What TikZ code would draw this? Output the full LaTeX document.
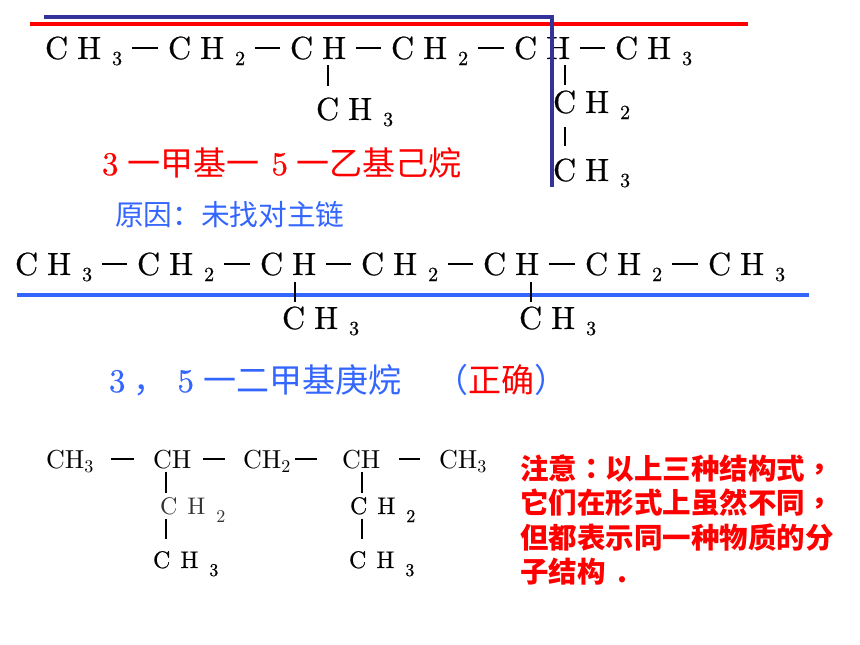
\documentclass[tikz,border=0pt]{standalone}
\usepackage{fontspec}
\setmainfont{lmroman10-regular.otf}
\newfontfamily\heavyfont[RawFeature={embolden=0.5}]{lmroman10-regular.otf}
\newfontfamily\cjk{Noto Sans CJK SC}
\newfontfamily\cjktc{Noto Sans CJK TC}
\usepackage{tikz}
\definecolor{chainred}{HTML}{FF0000}
\definecolor{chainnavy}{HTML}{333399}
\definecolor{chainblue}{HTML}{3366FF}
% Spaced groups: C H and a lowered index.
\newcommand{\biggroup}[1]{C\hspace{9pt}H\hspace{11pt}\raisebox{-6pt}{\fontsize{20}{20}\selectfont #1}}
\newcommand{\smallgroup}[1]{C\hspace{10pt}H\hspace{11pt}\raisebox{-8pt}{\fontsize{18}{20}\selectfont #1}}
\newcommand{\plainindex}[1]{\raisebox{-4pt}{\fontsize{18}{20}\selectfont #1}}
\tikzstyle{tag}=[inner sep=0, outer sep=0, anchor=base west]
\tikzstyle{biggrp}=[tag, text height=22pt, text depth=0pt, font=\heavyfont\fontsize{32}{36}\selectfont]
\tikzstyle{smallgrp}=[tag, text height=17pt, text depth=0pt, font=\heavyfont\fontsize{24}{28}\selectfont]
\tikzstyle{plaingrp}=[tag, text height=18pt, text depth=0pt, font=\fontsize{26}{30}\selectfont]
\tikzstyle{chainname}=[tag, font=\heavyfont\fontsize{33}{36}\selectfont]
\tikzstyle{remark}=[tag, text=chainred, font=\cjk\bfseries\fontsize{28.5}{32}\selectfont]
\tikzstyle{bond}=[line width=1.8pt, black]
\tikzstyle{hbond}=[bond, line width=1.6pt, shorten <=10pt, shorten >=10pt]
\tikzstyle{mainline}=[line width=3.5pt]
\begin{document}
\begin{tikzpicture}[x=1pt, y=-1pt]
    \useasboundingbox (0, 0) rectangle (860, 645);
    % First formula.
    \node[biggrp] (A1) at (45, 59) {\biggroup{3}};
    \node[biggrp] (A2) at (168, 59) {\biggroup{2}};
    \node[biggrp] (A3) at (290, 59) {C\hspace{9pt}H};
    \node[biggrp] (A4) at (391, 59) {\biggroup{2}};
    \node[biggrp] (A5) at (514, 59) {C\hspace{9pt}H};
    \node[biggrp] (A6) at (615, 59) {\biggroup{3}};
    \node[biggrp] (M1) at (316, 120) {\biggroup{3}};
    \node[biggrp] (B1) at (553, 113) {\biggroup{2}};
    \node[biggrp] (B2) at (553, 181) {\biggroup{3}};
    \draw[hbond] (A1) -- (A2);
    \draw[hbond] (A2) -- (A3);
    \draw[hbond] (A3) -- (A4);
    \draw[hbond] (A4) -- (A5);
    \draw[hbond] (A5) -- (A6);
    \draw[bond, shorten <=6pt, shorten >=12pt] ([xshift=38pt]A3.south west) -- ([xshift=12pt]M1.north west);
    \draw[bond, shorten <=6pt, shorten >=6pt] ([xshift=51pt]A5.south west) -- ([xshift=12pt]B1.north west);
    \draw[bond, shorten <=14pt, shorten >=13pt] ([xshift=12pt]B1.south west) -- ([xshift=12pt]B2.north west);
    \coordinate (redL) at (30, 24);
    \coordinate (redR) at (748, 24);
    \coordinate (navyL) at (44, 17);
    \coordinate (navyC) at (552, 17);
    \coordinate (navyB) at (552, 187);
    \draw[mainline, chainred] (redL) -- (redR);
    \draw[mainline, chainnavy] (navyL) -- (navyC) -- (navyB);
    \node[chainname, text=chainred] (wrong) at (102, 175) {3\hspace{9pt}{\cjk 一甲基一}\hspace{12pt}5\hspace{9pt}{\cjk 一乙基己烷}};
    \node[tag, text=chainblue, font=\cjk\fontsize{28.7}{32}\selectfont] (reason) at (115, 225) {原因：未找对主链};
    % Second formula.
    \node[biggrp] (C1) at (15, 275) {\biggroup{3}};
    \node[biggrp] (C2) at (137, 275) {\biggroup{2}};
    \node[biggrp] (C3) at (260, 275) {C\hspace{9pt}H};
    \node[biggrp] (C4) at (361, 275) {\biggroup{2}};
    \node[biggrp] (C5) at (483, 275) {C\hspace{9pt}H};
    \node[biggrp] (C6) at (585, 275) {\biggroup{2}};
    \node[biggrp] (C7) at (708, 275) {\biggroup{3}};
    \node[biggrp] (M2) at (282, 329) {\biggroup{3}};
    \node[biggrp] (M3) at (519, 329) {\biggroup{3}};
    \coordinate (blueL) at (17, 295);
    \coordinate (blueR) at (809, 295);
    \draw[mainline, chainblue] (blueL) -- (blueR);
    \draw[hbond] (C1) -- (C2);
    \draw[hbond] (C2) -- (C3);
    \draw[hbond] (C3) -- (C4);
    \draw[hbond] (C4) -- (C5);
    \draw[hbond] (C5) -- (C6);
    \draw[hbond] (C6) -- (C7);
    \draw[bond, shorten <=7pt, shorten >=5pt] ([xshift=35pt]C3.south west) -- ([xshift=13pt]M2.north west);
    \draw[bond, shorten <=7pt, shorten >=5pt] ([xshift=48pt]C5.south west) -- ([xshift=12pt]M3.north west);
    \node[chainname, text=chainblue] (correct) at (109, 392) {3\hspace{8pt}{\cjk ，}\hspace{11pt}5\hspace{9pt}{\cjk 一二甲基庚烷}};
    \node[chainname, text=chainblue, font=\cjk\fontsize{33}{36}\selectfont] (verdict) at (435, 392) {（\textcolor{chainred}{正确}）};
    % Third formula.
    \node[plaingrp] (D1) at (46, 468) {CH\plainindex{3}};
    \node[plaingrp] (D2) at (153, 468) {CH};
    \node[plaingrp] (D3) at (243, 468) {CH\plainindex{2}};
    \node[plaingrp] (D4) at (342, 468) {CH};
    \node[plaingrp] (D5) at (439, 468) {CH\plainindex{3}};
    \node[smallgrp, text=black!80, font=\rmfamily\fontsize{24}{28}\selectfont] (E1) at (160, 514) {\smallgroup{2}};
    \node[smallgrp] (E2) at (350, 514) {\smallgroup{2}};
    \node[smallgrp] (F1) at (153, 568) {\smallgroup{3}};
    \node[smallgrp] (F2) at (349, 568) {\smallgroup{3}};
    \draw[bond, line width=1.3pt, shorten <=18pt, shorten >=19pt] (D1) -- (D2);
    \draw[bond, line width=1.3pt, shorten <=12pt, shorten >=18pt] (D2) -- (D3);
    \draw[bond, line width=1.3pt, shorten <=5pt, shorten >=25pt] (D3) -- (D4);
    \draw[bond, line width=1.3pt, shorten <=19pt, shorten >=19pt] (D4) -- (D5);
    \draw[bond, shorten <=4pt, shorten >=4pt] ([xshift=13pt]D2.south west) -- ([xshift=6pt]E1.north west);
    \draw[bond, shorten <=5pt, shorten >=12pt] ([xshift=6pt]E1.south west) -- ([xshift=13pt]F1.north west);
    \draw[bond, shorten <=4pt, shorten >=4pt] ([xshift=20pt]D4.south west) -- ([xshift=12pt]E2.north west);
    \draw[bond, shorten <=5pt, shorten >=12pt] ([xshift=12pt]E2.south west) -- ([xshift=13pt]F2.north west);
    % Remark.
    \node[remark] (N1) at (520, 479) {注意{\cjktc ：}以上三种结构式{\cjktc ，}};
    \node[remark] (N2) at (520, 513) {它们在形式上虽然不同{\cjktc ，}};
    \node[remark] (N3) at (520, 548) {但都表示同一种物质的分};
    \node[remark] (N4) at (520, 582) {子结构\hspace{12pt}.};
\end{tikzpicture}
\end{document}
